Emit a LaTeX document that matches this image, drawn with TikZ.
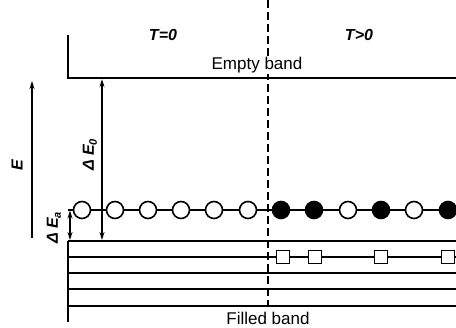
\documentclass[tikz,border=0pt]{standalone}
\usepackage{fontspec}
\setmainfont{Liberation Sans}
\usetikzlibrary{arrows.meta}
\begin{document}
\begin{tikzpicture}[x=1pt,y=-1pt,
  band/.style={line width=2.2pt},
  lvl/.style={line width=1.6pt},
  arr/.style={line width=1.1pt,-{Stealth[length=8pt,width=5pt]}},
  darr/.style={line width=1.1pt,{Stealth[length=8pt,width=5pt]}-{Stealth[length=8pt,width=5pt]}},
  opn/.style={circle,draw,line width=1.6pt,fill=white,minimum size=17pt,inner sep=0pt},
  fld/.style={circle,draw,line width=1.6pt,fill=black,minimum size=17pt,inner sep=0pt},
  sq/.style={rectangle,draw,line width=1.4pt,fill=white,minimum size=13pt,inner sep=0pt},
  lab/.style={font=\fontsize{17}{19}\selectfont,inner sep=1pt},
  ilab/.style={font=\fontsize{16}{18}\selectfont\itshape\bfseries,inner sep=0pt}
]
\useasboundingbox (0,0) rectangle (456,328);
% coordinates
\coordinate (eb0) at (68,35);
\coordinate (eb1) at (68,78);
\coordinate (eb2) at (456,78);
\coordinate (fb0) at (68,322);
\coordinate (dt) at (268,0);
\coordinate (db) at (268,307);
% dashed divider
\draw[line width=1.1pt,dash pattern=on 8pt off 4pt] (dt) -- (db);
% empty band
\draw[band] (eb0) -- (eb1) -- (eb2);
% filled band
\foreach \y/\n in {241/a,257/b,273/c,289/d,306/e}{
  \coordinate (l\n0) at (68,\y);
  \coordinate (l\n1) at (456,\y);
}
\draw[band] (fb0) -- (la0);
\draw[band] (la0) -- (la1);
\foreach \n in {b,c,d,e}{ \draw[lvl] (l\n0) -- (l\n1); }
% impurity level
\coordinate (r0) at (68,210);
\coordinate (r1) at (456,210);
\draw[lvl] (r0) -- (r1);
% circles
\foreach \x/\s/\n in {82/opn/1,115/opn/2,148/opn/3,181/opn/4,214/opn/5,248/opn/6,281/fld/7,314/fld/8,348/opn/9,381/fld/10,414/opn/11,448/fld/12}{
  \node[\s] (c\n) at (\x,210) {};
}
% squares (holes)
\foreach \x/\n in {283/1,315/2,381/3,448/4}{
  \node[sq] (s\n) at (\x,257) {};
}
% arrows
\coordinate (e0) at (32,238);
\coordinate (e1) at (32,81);
\draw[arr] (e0) -- (e1);
\coordinate (d0a) at (102,79.2);
\coordinate (d0b) at (102,240);
\draw[darr] (d0a) -- (d0b);
\coordinate (daa) at (70,210.5);
\coordinate (dab) at (70,240);
\draw[darr] (daa) -- (dab);
% labels
\node[lab,fill=white] (teb) at (257,65) {Empty band};
\node[lab] (tfb) at (268,318) {Filled band};
\node[ilab] (t0) at (163,35) {T=0};
\node[ilab] (t1) at (359,35) {T>0};
\node[ilab,rotate=90] (tE) at (17,165) {E};
\node[ilab,rotate=90] (tE0) at (90,155) {Δ E\raisebox{-3pt}{\fontsize{11}{12}\selectfont 0}};
\node[ilab,rotate=90] (tEa) at (54,228) {Δ E\raisebox{-3pt}{\fontsize{11}{12}\selectfont a}};
\end{tikzpicture}
\end{document}
